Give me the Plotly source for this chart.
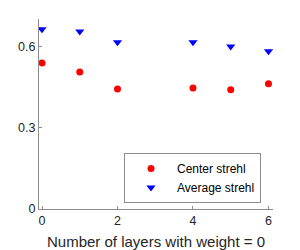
import plotly.graph_objects as go

layers = [0, 1, 2, 4, 5, 6]
center_strehl = [0.538, 0.505, 0.442, 0.446, 0.439, 0.461]
average_strehl = [0.662, 0.654, 0.614, 0.614, 0.599, 0.581]
y_ticks = [0, 0.3, 0.6]
y_tick_labels = ["0", "0.3", "0.6"]
x_ticks = [0, 2, 4, 6]

fig = go.Figure()
fig.add_trace(go.Scatter(x=layers, y=center_strehl, mode="markers", name="Center strehl",
                         marker=dict(symbol="circle", color="#ff0000", size=7)))
fig.add_trace(go.Scatter(x=layers, y=average_strehl, mode="markers", name="Average strehl",
                         marker=dict(symbol="triangle-down", color="#0000ff", size=8)))

axis_color = "#8c8c8c"
# page body has an 8px default margin, compensate in the figure margins
L, R, T, B = 31, 35, 11, 49
fig.update_layout(
    width=300, height=250,
    margin=dict(l=L, r=R, t=T, b=B, pad=0),
    paper_bgcolor="white", plot_bgcolor="white",
    font=dict(family="Liberation Sans, Arial", size=12.5, color="#262626"),
    showlegend=True,
    legend=dict(x=(124 - 39) / 234, y=(209 - 178) / 190, xanchor="left", yanchor="middle",
                bordercolor=axis_color, borderwidth=1, bgcolor="white",
                font=dict(size=12, color="#000000"), tracegroupgap=0,
                itemwidth=42),
    xaxis=dict(range=[-0.08, 6.12], tickvals=x_ticks, ticks="inside", ticklen=3,
               tickcolor=axis_color, showline=True, linecolor=axis_color, linewidth=1,
               showgrid=False, zeroline=False, automargin=False,
               title=dict(text="Number of layers with weight = 0", font=dict(size=15, color="#262626"),
                          standoff=9)),
    yaxis=dict(range=[0, 0.7], tickvals=y_ticks, ticktext=y_tick_labels, ticks="inside", ticklen=3,
               tickcolor=axis_color, showline=True, linecolor=axis_color, linewidth=1,
               showgrid=False, zeroline=False, automargin=False),
)
fig.write_html("out.html")
